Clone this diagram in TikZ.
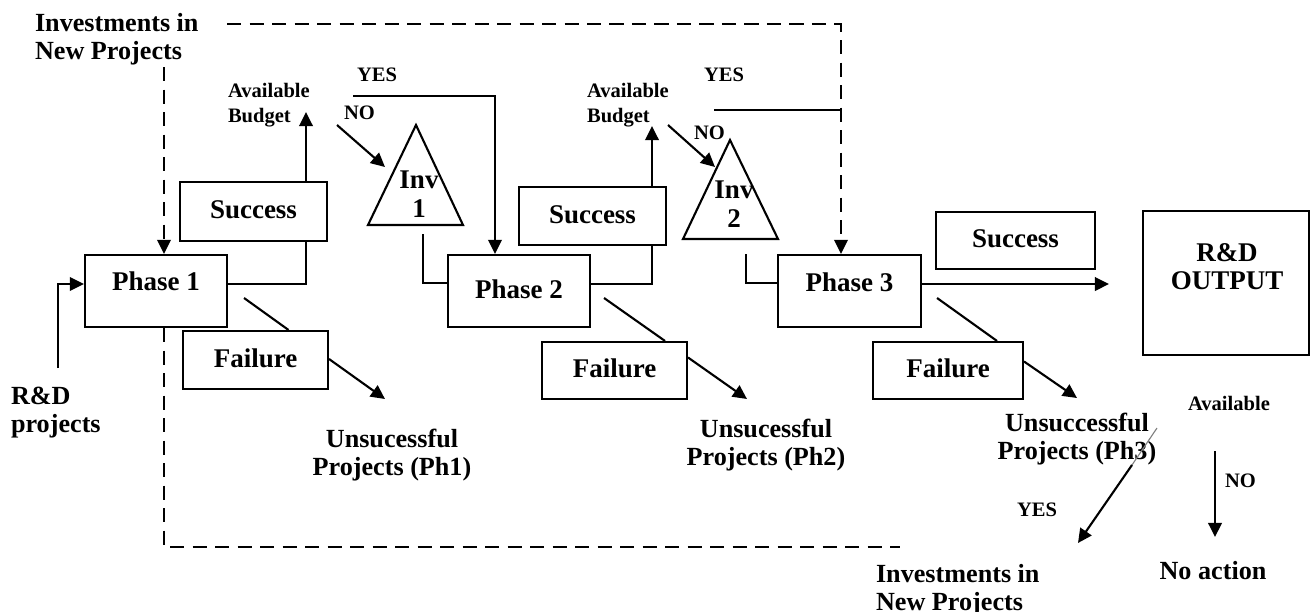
\documentclass[tikz,border=0pt]{standalone}
\usepackage{fontspec}
\setmainfont{Liberation Serif}
\usetikzlibrary{arrows.meta,calc}
\begin{document}
\begin{tikzpicture}[x=0.0125cm,y=-0.0125cm,line width=0.75pt,
  big/.style={font=\fontsize{9.6}{10.3}\selectfont\bfseries,inner sep=0pt},
  mid/.style={font=\fontsize{9.3}{10}\selectfont\bfseries,inner sep=0pt},
  small/.style={font=\fontsize{7.3}{8.9}\selectfont\bfseries,inner sep=0pt},
  box/.style={draw,big,text height=0.225cm,text depth=0.05cm},
  wh/.style 2 args={minimum width=#1*0.0125cm,minimum height=#2*0.0125cm},
  arr/.style={-{Triangle[length=5pt,width=4.8pt]}},
  feed/.style={dash pattern=on 5pt off 3pt}]
\useasboundingbox (0,0) rectangle (1311,611);
% phases and outcomes
\node[box,wh={142}{72},text depth=0.25cm] (ph1) at (156,291) {Phase 1};
\node[box,wh={142}{72}] (ph2) at (519,291) {Phase 2};
\node[box,wh={143}{72},text depth=0.225cm] (ph3) at (849.5,291) {Phase 3};
\node[box,wh={147}{59}] (suc1) at (253.5,211.5) {Success};
\node[box,wh={147}{58}] (suc2) at (592.5,216) {Success};
\node[box,wh={159}{57}] (suc3) at (1015.5,240.5) {Success};
\node[box,wh={145}{58}] (fail1) at (255.5,360) {Failure};
\node[box,wh={145}{57}] (fail2) at (614.5,370.5) {Failure};
\node[box,wh={150}{57}] (fail3) at (948,370.5) {Failure};
\node[draw,wh={166}{144}] (out) at (1226,283) {};
\node[big,align=center,anchor=north] (outtxt) at (1227,242) {R\&D\\OUTPUT};
% investment triangles
\draw (368,225) -- (416,125) -- (463,225) -- cycle;
\node[big,align=center,anchor=north] (inv1) at (419,170) {Inv\\1};
\draw (683,239) -- (730,140) -- (778,239) -- cycle;
\node[big,align=center,anchor=north] (inv2) at (734,180) {Inv\\2};
% labels
\node[mid,align=left,anchor=north west] (newtop) at (34,12) {Investments in\\New Projects};
\node[small,align=left,anchor=north west] (bud1) at (227,82) {Available\\Budget};
\node[small,anchor=north west] (yes1) at (356,67) {YES};
\node[small,anchor=north west] (no1) at (343,105) {NO};
\node[small,align=left,anchor=north west] (bud2) at (586,82) {Available\\Budget};
\node[small,anchor=north west] (yes2) at (703,67) {YES};
\node[small,anchor=north west] (no2) at (693,125) {NO};
\node[mid,align=left,anchor=north west] (rdp) at (10,386) {R\&D\\projects};
\node[mid,align=center,anchor=north] (lost1) at (392,428) {Unsucessful\\Projects (Ph1)};
\node[mid,align=center,anchor=north] (lost2) at (766,418) {Unsucessful\\Projects (Ph2)};
\node[mid,align=center,anchor=north] (lost3) at (1077,412) {Unsuccessful\\Projects (Ph3)};
\node[small,anchor=north] (avail) at (1229,395) {Available};
\node[small,anchor=north] (yes3) at (1037,502) {YES};
\node[small,anchor=north west] (no3) at (1224,473) {NO};
\node[mid,anchor=north] (noact) at (1213,560) {No action};
\node[mid,align=left,anchor=north west] (newbot) at (875,563) {Investments in\\New Projects};
% free ends
\coordinate (tip1) at (306,112);
\coordinate (tip2) at (652,126);
\coordinate (y1) at (353,96);
\coordinate (y2) at (714,110);
\coordinate (j2) at (841,110);
\coordinate (n1) at (337,125);
\coordinate (t1) at (385,167);
\coordinate (n2) at (668,125);
\coordinate (t2) at (715,167);
\coordinate (b1) at (423,234);
\coordinate (b2) at (746,254);
\coordinate (d1) at (385,399);
\coordinate (d2) at (747,399);
\coordinate (d3) at (1077,398);
\coordinate (o3) at (1109,284);
\coordinate (a3) at (1157,428);
\coordinate (a3m) at (1132,465);
\coordinate (y3) at (1078,543);
\coordinate (n3) at (1215,451);
\coordinate (n3t) at (1215,537);
\coordinate (f0) at (164,67);
\coordinate (f1) at (227,24);
\coordinate (f2) at (900,547);
% flow
\draw[arr] ($(rdp.north)+(2,-18)$) |- ($(ph1.west)+(0,-7)$);
\draw ($(ph1.east)+(0,-7)$) -| (tip1 |- suc1.south);
\draw[arr] (tip1 |- suc1.north) -- (tip1);
\draw[arr] (y1) -| ($(ph2.north)+(-24,0)$);
\draw[arr] (n1) -- (t1);
\draw (b1) |- ($(ph2.west)+(0,-8)$);
\draw ($(ph1.east)+(16,7)$) -- ($(fail1.north)+(33,0)$);
\draw[arr] ($(fail1.east)+(0,-1)$) -- (d1);
\draw ($(ph2.east)+(0,-7)$) -| (tip2 |- suc2.south);
\draw[arr] (tip2 |- suc2.north) -- (tip2);
\draw (y2) -- (j2);
\draw[arr] (n2) -- (t2);
\draw (b2) |- ($(ph3.west)+(0,-8)$);
\draw ($(ph2.east)+(13,7)$) -- ($(fail2.north)+(50.5,0)$);
\draw[arr] ($(fail2.east)+(0,-13)$) -- (d2);
\draw[arr] ($(ph3.east)+(0,-7)$) -- (o3);
\draw ($(ph3.east)+(15,7)$) -- ($(fail3.north)+(49,0)$);
\draw[arr] ($(fail3.east)+(0,-9)$) -- (d3);
\draw[gray,line width=0.4pt] (a3) -- (a3m);
\draw[arr] (a3m) -- (y3);
\draw[arr] (n3) -- (n3t);
% reinvestment loop
\draw[feed,arr] (f0) -- ($(ph1.north)+(8,0)$);
\draw[feed,arr] (f1) -| ($(ph3.north)+(-8.5,0)$);
\draw[feed] ($(ph1.south)+(8,0)$) |- (f2);
\end{tikzpicture}
\end{document}
